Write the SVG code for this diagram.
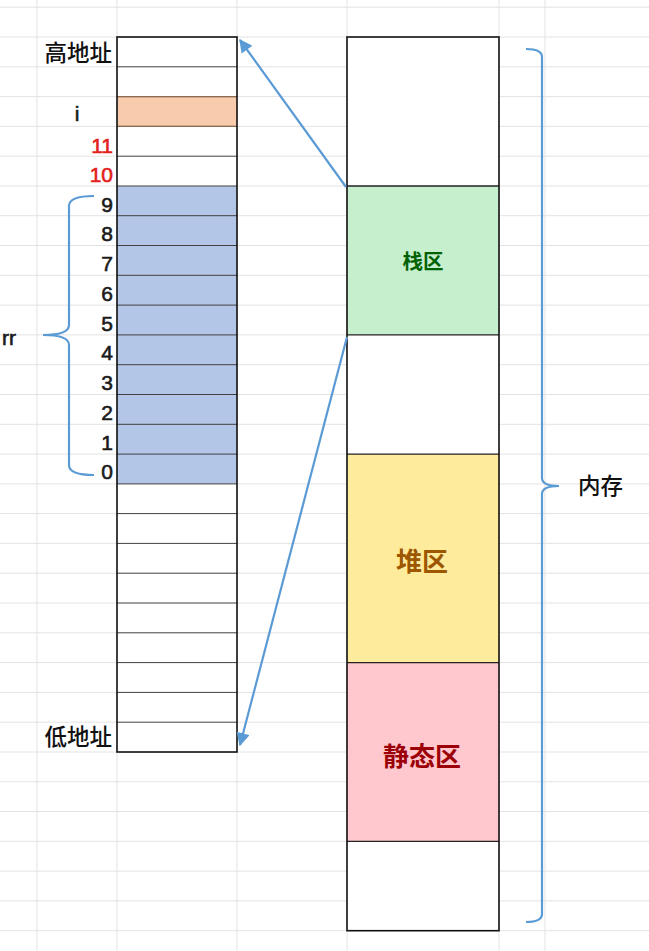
<svg xmlns="http://www.w3.org/2000/svg" width="649" height="951" viewBox="0 0 649 951">
<defs>
<style>
.grid{stroke:#e3e3e3;stroke-width:1;fill:none}
.cell{stroke:#404040;stroke-width:1;}
.outer{fill:none;stroke:#111;stroke-width:1.6}
.lbl{font-family:"Noto Sans CJK SC","Liberation Sans",sans-serif;font-size:22.5px;font-weight:500;fill:#111}
.num{font-family:"Liberation Sans","Noto Sans CJK SC",sans-serif;font-size:21px;fill:#1a1a1a;stroke:#1a1a1a;stroke-width:0.6;text-anchor:end}
.red{fill:#e3201b;stroke:#e3201b}
.lft{text-anchor:start}
.mid{text-anchor:middle}
.conn{stroke:#5b9bd5;stroke-width:2.2;fill:none}
.zone{font-family:"Noto Sans CJK SC",sans-serif;text-anchor:middle;font-weight:bold}
</style>
<marker id="ah" viewBox="0 0 10 10" refX="9" refY="5" markerWidth="6.5" markerHeight="6" orient="auto" markerUnits="strokeWidth">
<path d="M0,0 L10,5 L0,10 z" fill="#5b9bd5"/>
</marker>
</defs>
<rect width="649" height="951" fill="#ffffff"/>
<g id="grid" class="grid">
<path d="M0,7.2H649M0,37H649M0,66.8H649M0,96.6H649M0,126.4H649M0,156.2H649M0,186H649M0,215.7H649M0,245.5H649M0,275.3H649M0,305.1H649M0,334.9H649M0,364.7H649M0,394.5H649M0,424.3H649M0,454.1H649M0,483.9H649M0,513.6H649M0,543.4H649M0,573.2H649M0,603H649M0,632.8H649M0,662.6H649M0,692.4H649M0,722.2H649M0,752H649M0,781.8H649M0,811.5H649M0,841.3H649M0,871.1H649M0,900.9H649M0,930.7H649"/>
<path d="M37,0V951M117,0V951M237,0V951M347,0V951M499,0V951M545,0V951"/>
</g>
<g id="stack-table">
<rect x="117" y="37" width="120" height="715" fill="#ffffff"/>
<rect x="117" y="96.6" width="120" height="29.8" fill="#f8cbad"/>
<rect x="117" y="186" width="120" height="297.9" fill="#b4c6e7"/>
<path class="cell" d="M117,66.8H237M117,96.6H237M117,126.4H237M117,156.2H237M117,186H237M117,215.7H237M117,245.5H237M117,275.3H237M117,305.1H237M117,334.9H237M117,364.7H237M117,394.5H237M117,424.3H237M117,454.1H237M117,483.9H237M117,513.6H237M117,543.4H237M117,573.2H237M117,603H237M117,632.8H237M117,662.6H237M117,692.4H237M117,722.2H237"/>
<path d="M117,96.6H237M117,126.4H237" stroke="#8a6a50" stroke-width="1.4"/>
<rect class="outer" x="117" y="37" width="120" height="715"/>
</g>
<g id="stack-labels">
<text class="lbl" x="112" y="61" text-anchor="end">高地址</text>
<text class="num mid" x="77" y="121">i</text>
<text class="num red" x="113" y="153">11</text>
<text class="num red" x="113" y="182">10</text>
<text class="num" x="113" y="212">9</text>
<text class="num" x="113" y="241">8</text>
<text class="num" x="113" y="271">7</text>
<text class="num" x="113" y="301">6</text>
<text class="num" x="113" y="331">5</text>
<text class="num" x="113" y="360">4</text>
<text class="num" x="113" y="390">3</text>
<text class="num" x="113" y="420">2</text>
<text class="num" x="113" y="450">1</text>
<text class="num" x="113" y="479">0</text>
<text class="lbl" x="112" y="745" text-anchor="end">低地址</text>
<text class="num lft" x="2" y="345">rr</text>
</g>
<g id="memory">
<rect x="347" y="37" width="152" height="894" fill="#ffffff"/>
<rect x="347" y="186" width="152" height="148.9" fill="#c6efce"/>
<rect x="347" y="454.1" width="152" height="208.5" fill="#ffeb9c"/>
<rect x="347" y="662.6" width="152" height="178.7" fill="#ffc7ce"/>
<path d="M347,186H499M347,334.9H499M347,454.1H499M347,662.6H499M347,841.3H499" stroke="#222" stroke-width="1.3"/>
<rect class="outer" x="347" y="37" width="152" height="893.7"/>
</g>
<g id="zone-stack"><text class="zone" x="423" y="269" font-size="20.5" fill="#006100">栈区</text></g>
<g id="zone-heap"><text class="zone" x="422" y="571" font-size="26" fill="#9c5700">堆区</text></g>
<g id="zone-static"><text class="zone" x="422" y="766" font-size="26" fill="#9c0006">静态区</text></g>
<g id="label-memory"><text class="lbl" x="578" y="494" font-size="22.5">内存</text></g>
<g id="connectors">
<line class="conn" x1="346" y1="187" x2="240" y2="40" marker-end="url(#ah)"/>
<line class="conn" x1="347" y1="337" x2="240" y2="745" marker-end="url(#ah)"/>
<path class="conn" d="M94,196 Q69,196 69,206 L69,325 Q69,335 43,335 Q69,335 69,345 L69,465 Q69,475 94,475"/>
<path class="conn" d="M526,49 Q542,49 542,57 L542,478 Q542,486 559,486 Q542,486 542,494 L542,914 Q542,922 526,922"/>
</g>
</svg>
